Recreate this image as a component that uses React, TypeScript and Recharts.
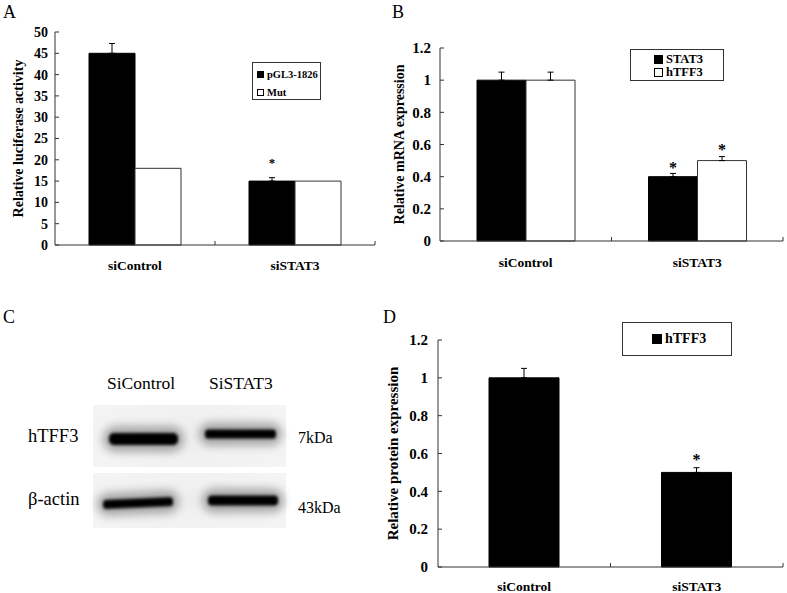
import React from "react";
import {
  BarChart, Bar, XAxis, YAxis, ErrorBar, LabelList, Legend,
} from "recharts";

// ── Data ───────────────────────────────────────────────────────────────
const categories = ["siControl", "siSTAT3"];

// A: luciferase
const lucPgl3 = [45, 15];
const lucPgl3Err = [2.3, 0.8];
const lucMut = [18, 15];
const lucSig = ["", "*"];
const lucTicks = [0, 5, 10, 15, 20, 25, 30, 35, 40, 45, 50];

// B: mRNA
const mrnaStat3 = [1, 0.4];
const mrnaStat3Err = [0.05, 0.02];
const mrnaTff3 = [1, 0.5];
const mrnaTff3Err = [0.05, 0.025];
const mrnaStat3Sig = ["", "*"];
const mrnaTff3Sig = ["", "*"];

// D: protein
const protTff3 = [1, 0.5];
const protTff3Err = [0.05, 0.025];
const protSig = ["", "*"];

const fracTicks = [0, 0.2, 0.4, 0.6, 0.8, 1, 1.2];

// C: western blot labels
const blotLanes = ["SiControl", "SiSTAT3"];
const blotRows = ["hTFF3", "β-actin"];
const blotSizes = ["7kDa", "43kDa"];

const lucData = categories.map((name, i) => ({
  name, pgl3: lucPgl3[i], pgl3Err: [0, lucPgl3Err[i]], mut: lucMut[i], sig: lucSig[i],
}));
const mrnaData = categories.map((name, i) => ({
  name,
  stat3: mrnaStat3[i], stat3Err: [0, mrnaStat3Err[i]], stat3Sig: mrnaStat3Sig[i],
  tff3: mrnaTff3[i], tff3Err: [0, mrnaTff3Err[i]], tff3Sig: mrnaTff3Sig[i],
}));
const protData = categories.map((name, i) => ({
  name, tff3: protTff3[i], tff3Err: [0, protTff3Err[i]], sig: protSig[i],
}));

// ── Style ──────────────────────────────────────────────────────────────
const FONT = "'Liberation Serif', 'Times New Roman', serif";
const AXIS = "#333";

// ── Helpers ────────────────────────────────────────────────────────────
const yTick = (fontSize: number, gap: number) => (props: any) => {
  const { x, y, payload } = props;
  return (
    <g>
      <line x1={x} x2={x + 4} y1={y} y2={y} stroke={AXIS} />
      <text x={x - gap} y={y} dy="0.35em" textAnchor="end" fontFamily={FONT}
        fontWeight="bold" fontSize={fontSize} fill="#000">
        {String(payload.value)}
      </text>
    </g>
  );
};

const xTick = (band: number, fontSize: number, dy: number) => (props: any) => {
  const { x, y, payload } = props;
  return (
    <g>
      <line x1={x + band / 2} x2={x + band / 2} y1={y} y2={y - 4} stroke={AXIS} />
      <text x={x} y={y + dy} dominantBaseline="central" textAnchor="middle"
        fontFamily={FONT} fontWeight="bold" fontSize={fontSize} fill="#000">
        {payload.value}
      </text>
    </g>
  );
};

const yLabel = (text: string, x: number, cy: number, fontSize: number) => ({
  content: () => (
    <text x={x} y={cy} transform={`rotate(-90 ${x} ${cy})`} textAnchor="middle"
      dominantBaseline="central" fontFamily={FONT} fontWeight="bold"
      fontSize={fontSize} fill="#000">
      {text}
    </text>
  ),
});

const star = (gap: number, size: number) => (props: any) => {
  const { x, y, width, value } = props;
  if (!value) return null;
  return (
    <text x={x + width / 2} y={y - gap} textAnchor="middle" fontFamily={FONT}
      fontWeight="bold" fontSize={size} fill="#000">
      {value}
    </text>
  );
};

const legendBox = (order: string[], opts: {
  rowH: number; padTop: number; padLeft: number; sq: number; fontSize: number;
}) => (props: any) => {
  const items = [...(props.payload || [])].sort(
    (a: any, b: any) => order.indexOf(a.value) - order.indexOf(b.value));
  return (
    <div style={{
      boxSizing: "border-box", width: "100%", height: "100%", border: `1px solid ${AXIS}`,
      background: "#fff", paddingTop: opts.padTop, paddingLeft: opts.padLeft,
    }}>
      {items.map((e: any) => (
        <div key={e.value} style={{
          height: opts.rowH, display: "flex", alignItems: "center", gap: 3,
          fontFamily: FONT, fontWeight: "bold", fontSize: opts.fontSize, color: "#000",
        }}>
          <span style={{
            width: opts.sq, height: opts.sq, boxSizing: "border-box",
            background: e.color, border: "1px solid #000", display: "inline-block",
          }} />
          <span>{e.value}</span>
        </div>
      ))}
    </div>
  );
};

// ── Western blot ───────────────────────────────────────────────────────
function Blot() {
  const band = (x: number, cy: number, w: number, h: number, rot = 0) => (
    <g transform={`rotate(${rot} ${x + w / 2} ${cy})`}>
      <rect x={x - 6} y={cy - h / 2 - 7} width={w + 12} height={h + 14} rx={(h + 14) / 2}
        fill="#000" opacity={0.3} filter="url(#halo)" />
      <rect x={x} y={cy - h / 2} width={w} height={h} rx={h / 2.5} fill="#000"
        filter="url(#soft)" />
    </g>
  );
  return (
    <g transform="translate(0 290)">
      <defs>
        <filter id="soft" x="-20%" y="-200%" width="140%" height="500%">
          <feGaussianBlur stdDeviation="1.4" />
        </filter>
        <filter id="halo" x="-30%" y="-200%" width="160%" height="500%">
          <feGaussianBlur stdDeviation="4.5" />
        </filter>
        <radialGradient id="mem" cx="50%" cy="50%" r="75%">
          <stop offset="0%" stopColor="#ededed" />
          <stop offset="100%" stopColor="#f5f5f5" />
        </radialGradient>
      </defs>
      <rect x={93} y={115} width={193} height={62} fill="url(#mem)" />
      <rect x={93} y={183} width={193} height={55} fill="url(#mem)" />
      {band(109, 149, 69, 12)}
      {band(205, 144, 71, 9)}
      {band(103, 213, 70, 9, -2.5)}
      {band(208, 210.5, 70, 10)}
      <g fontFamily={FONT} fill="#000">
        <text x={107} y={99} fontSize={17.5}>{blotLanes[0]}</text>
        <text x={209} y={99} fontSize={17.5}>{blotLanes[1]}</text>
        <text x={28} y={152} fontSize={18.5}>{blotRows[0]}</text>
        <text x={28} y={215} fontSize={18.5}>{blotRows[1]}</text>
        <text x={298} y={153} fontSize={16}>{blotSizes[0]}</text>
        <text x={298} y={223} fontSize={16}>{blotSizes[1]}</text>
      </g>
    </g>
  );
}

// ── App ────────────────────────────────────────────────────────────────
export default function App() {
  return (
    <div style={{ position: "absolute", left: 0, top: 0, width: 787, height: 593, background: "#fff" }}>
      <svg width={787} height={593} style={{ position: "absolute", left: 0, top: 0 }}>
        <g fontFamily={FONT} fontSize={18} fill="#000">
          <text x={3} y={18}>A</text>
          <text x={392} y={18}>B</text>
          <text x={3} y={323}>C</text>
          <text x={383} y={323}>D</text>
        </g>
        <Blot />
      </svg>

      {/* A */}
      <div style={{ position: "absolute", left: 0, top: 0 }}>
        <BarChart width={390} height={280} data={lucData} barGap={0} barSize={46}
          margin={{ top: 32, right: 15, bottom: 0, left: 0 }}>
          <XAxis dataKey="name" height={35} interval={0} tickSize={0} tickMargin={0}
            tickLine={false} stroke={AXIS} tick={xTick(160, 13.5, 20)} />
          <YAxis width={55} domain={[0, 50]} ticks={lucTicks} interval={0} tickSize={0}
            tickMargin={0} tickLine={false} stroke={AXIS} tick={yTick(14, 7)}
            label={yLabel("Relative luciferase activity", 18, 138.5, 14)} />
          <Legend layout="vertical" align="center" verticalAlign="middle"
            wrapperStyle={{ left: 252, top: 62, width: 69, height: 38 }}
            content={legendBox(["pGL3-1826", "Mut"], { rowH: 18, padTop: 2, padLeft: 4, sq: 7, fontSize: 10.5 })} />
          <Bar dataKey="pgl3" name="pGL3-1826" fill="#000" stroke="#000" isAnimationActive={false}>
            <ErrorBar dataKey="pgl3Err" width={3} stroke="#000" strokeWidth={1} direction="y" />
            <LabelList dataKey="sig" content={star(14, 13)} />
          </Bar>
          <Bar dataKey="mut" name="Mut" fill="#fff" stroke={AXIS} isAnimationActive={false} />
        </BarChart>
      </div>

      {/* B */}
      <div style={{ position: "absolute", left: 390, top: 0 }}>
        <BarChart width={397} height={280} data={mrnaData} barGap={0} barSize={49}
          margin={{ top: 48, right: 4, bottom: 0, left: 0 }}>
          <XAxis dataKey="name" height={39} interval={0} tickSize={0} tickMargin={0}
            tickLine={false} stroke={AXIS} tick={xTick(171.5, 13.5, 21)} />
          <YAxis width={50} domain={[0, 1.2]} ticks={fracTicks} interval={0} tickSize={0}
            tickMargin={0} tickLine={false} stroke={AXIS} tick={yTick(15, 9)}
            label={yLabel("Relative mRNA expression", 9, 144.5, 14)} />
          <Legend layout="vertical" align="center" verticalAlign="middle"
            wrapperStyle={{ left: 240, top: 49, width: 94, height: 32 }}
            content={legendBox(["STAT3", "hTFF3"], { rowH: 13, padTop: 3, padLeft: 23, sq: 9, fontSize: 12.5 })} />
          <Bar dataKey="stat3" name="STAT3" fill="#000" stroke="#000" isAnimationActive={false}>
            <ErrorBar dataKey="stat3Err" width={3} stroke="#000" strokeWidth={1} direction="y" />
            <LabelList dataKey="stat3Sig" content={star(4, 16)} />
          </Bar>
          <Bar dataKey="tff3" name="hTFF3" fill="#fff" stroke={AXIS} isAnimationActive={false}>
            <ErrorBar dataKey="tff3Err" width={3} stroke="#000" strokeWidth={1} direction="y" />
            <LabelList dataKey="tff3Sig" content={star(5.5, 16)} />
          </Bar>
        </BarChart>
      </div>

      {/* D */}
      <div style={{ position: "absolute", left: 380, top: 290 }}>
        <BarChart width={407} height={303} data={protData} barSize={70}
          margin={{ top: 50, right: 4, bottom: 0, left: 0 }}>
          <XAxis dataKey="name" height={26} interval={0} tickSize={0} tickMargin={0}
            tickLine={false} stroke={AXIS} tick={xTick(172.5, 13.5, 19)} />
          <YAxis width={58} domain={[0, 1.2]} ticks={fracTicks} interval={0} tickSize={0}
            tickMargin={0} tickLine={false} stroke={AXIS} tick={yTick(15, 10)}
            label={yLabel("Relative protein expression", 13, 163.5, 15)} />
          <Legend layout="vertical" align="center" verticalAlign="middle"
            wrapperStyle={{ left: 242, top: 32, width: 110, height: 34 }}
            content={legendBox(["hTFF3"], { rowH: 32, padTop: 0, padLeft: 29, sq: 10, fontSize: 14 })} />
          <Bar dataKey="tff3" name="hTFF3" fill="#000" stroke="#000" isAnimationActive={false}>
            <ErrorBar dataKey="tff3Err" width={3} stroke="#000" strokeWidth={1} direction="y" />
            <LabelList dataKey="sig" content={star(7, 16)} />
          </Bar>
        </BarChart>
      </div>
    </div>
  );
}
